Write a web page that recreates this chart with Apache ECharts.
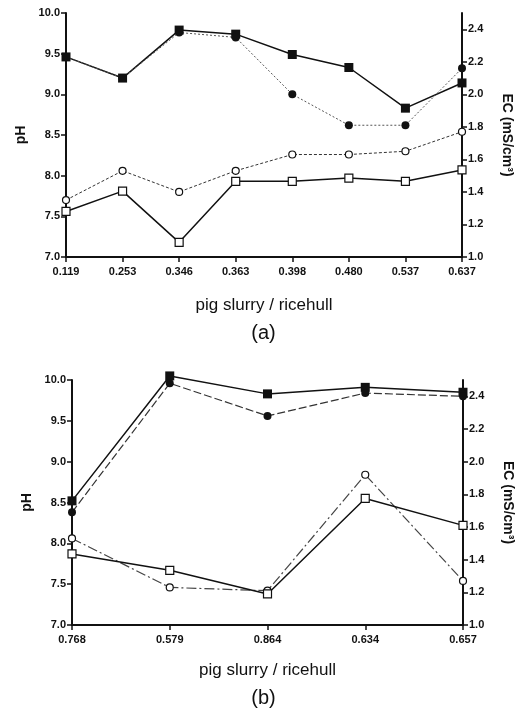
<!DOCTYPE html>
<html>
<head>
<meta charset="utf-8">
<script src="https://cdn.jsdelivr.net/npm/echarts@6/dist/echarts.min.js"></script>
<style>
html, body { margin: 0; padding: 0; background: #fff; }
#chart { width: 527px; height: 713px; }
</style>
</head>
<body>
<div id="chart"></div>
<script>
// (a) 猪粪 / 稻壳 比例
let catsA = ['0.119', '0.253', '0.346', '0.363', '0.398', '0.480', '0.537', '0.637'];
let phFilledA = [9.46, 9.20, 9.79, 9.74, 9.49, 9.33, 8.83, 9.14];
let ecFilledA = [2.23, 2.10, 2.38, 2.35, 2.00, 1.81, 1.81, 2.16];
let ecOpenA = [1.35, 1.53, 1.40, 1.53, 1.63, 1.63, 1.65, 1.77];
let phOpenA = [7.56, 7.81, 7.18, 7.93, 7.93, 7.97, 7.93, 8.07];

// (b)
let catsB = ['0.768', '0.579', '0.864', '0.634', '0.657'];
let phFilledB = [8.52, 10.05, 9.83, 9.91, 9.85];
let ecFilledB = [1.69, 2.48, 2.28, 2.42, 2.40];
let ecOpenB = [1.53, 1.23, 1.21, 1.92, 1.27];
let phOpenB = [7.87, 7.67, 7.38, 8.55, 8.22];

let ecTicks = [1.0, 1.2, 1.4, 1.6, 1.8, 2.0, 2.2, 2.4];

let font = 'Liberation Sans, Arial, sans-serif';
let black = '#111';

let axisLine = { show: true, onZero: false, lineStyle: { color: black, width: 2 } };
let axisTick = { show: true, inside: false, length: 5, lineStyle: { color: black, width: 1.5 } };
let tickLabel = { color: black, fontFamily: font, fontSize: 11, fontWeight: 'bold' };

function xAxis(grid, cats, gap) {
    return {
        type: 'category',
        gridIndex: grid,
        data: cats,
        boundaryGap: false,
        axisLine: axisLine,
        axisTick: Object.assign({ alignWithLabel: true }, axisTick),
        axisLabel: Object.assign({ margin: 9 }, tickLabel),
        splitLine: { show: false },
        name: 'pig slurry / ricehull',
        nameLocation: 'middle',
        nameGap: gap,
        nameTextStyle: { color: black, fontFamily: font, fontSize: 17 }
    };
}

function phAxis(grid) {
    return {
        type: 'value',
        gridIndex: grid,
        position: 'left',
        min: 7,
        max: 10,
        interval: 0.5,
        axisLine: axisLine,
        axisTick: axisTick,
        axisLabel: Object.assign({ margin: 6, formatter: v => v.toFixed(1) }, tickLabel),
        splitLine: { show: false },
        name: 'pH',
        nameLocation: 'middle',
        nameRotate: 90,
        nameGap: 38,
        nameTextStyle: { color: black, fontFamily: font, fontSize: 14, fontWeight: 'bold' }
    };
}

function ecAxis(grid) {
    return {
        type: 'value',
        gridIndex: grid,
        position: 'right',
        min: 1.0,
        max: 2.5,
        axisLine: axisLine,
        axisTick: Object.assign({ customValues: ecTicks }, axisTick),
        axisLabel: Object.assign({ margin: 6, customValues: ecTicks, formatter: v => v.toFixed(1) }, tickLabel),
        splitLine: { show: false },
        name: 'EC (mS/cm³)',
        nameLocation: 'middle',
        nameRotate: -90,
        nameGap: 38,
        nameTextStyle: { color: black, fontFamily: font, fontSize: 14, fontWeight: 'bold' }
    };
}

// 折线系列
function line(x, y, data, symbol, filled, size, dash, width, color) {
    return {
        type: 'line',
        xAxisIndex: x,
        yAxisIndex: y,
        data: data,
        symbol: symbol,
        symbolSize: size,
        showSymbol: true,
        clip: false,
        animation: false,
        lineStyle: { color: color, width: width, type: dash },
        itemStyle: {
            color: filled ? black : '#fff',
            borderColor: black,
            borderWidth: filled ? 0 : 1.2
        },
        z: filled ? 4 : 3
    };
}

let chart = echarts.init(document.getElementById('chart'));

chart.setOption({
    animation: false,
    title: [
        { text: '(a)', left: 'center', top: 318, textStyle: { color: black, fontFamily: font, fontSize: 20, fontWeight: 'normal' } },
        { text: '(b)', left: 'center', top: 683, textStyle: { color: black, fontFamily: font, fontSize: 20, fontWeight: 'normal' } }
    ],
    grid: [
        { left: 66, right: 65, top: 13, height: 244 },
        { left: 72, right: 64, top: 380, height: 245 }
    ],
    xAxis: [xAxis(0, catsA, 40), xAxis(1, catsB, 37)],
    yAxis: [phAxis(0), ecAxis(0), phAxis(1), ecAxis(1)],
    series: [
        line(0, 0, phFilledA, 'rect', true, 9, 'solid', 1.5, black),
        line(0, 1, ecFilledA, 'circle', true, 8, [2, 2], 1, '#555'),
        line(0, 1, ecOpenA, 'circle', false, 7, [3, 2], 1, '#333'),
        line(0, 0, phOpenA, 'rect', false, 8, 'solid', 1.5, black),
        line(1, 2, phFilledB, 'rect', true, 9, 'solid', 1.5, black),
        line(1, 3, ecFilledB, 'circle', true, 8, [8, 3], 1.2, '#333'),
        line(1, 3, ecOpenB, 'circle', false, 7, [10, 3, 2, 3], 1.2, '#444'),
        line(1, 2, phOpenB, 'rect', false, 8, 'solid', 1.5, black)
    ]
});
</script>
</body>
</html>
